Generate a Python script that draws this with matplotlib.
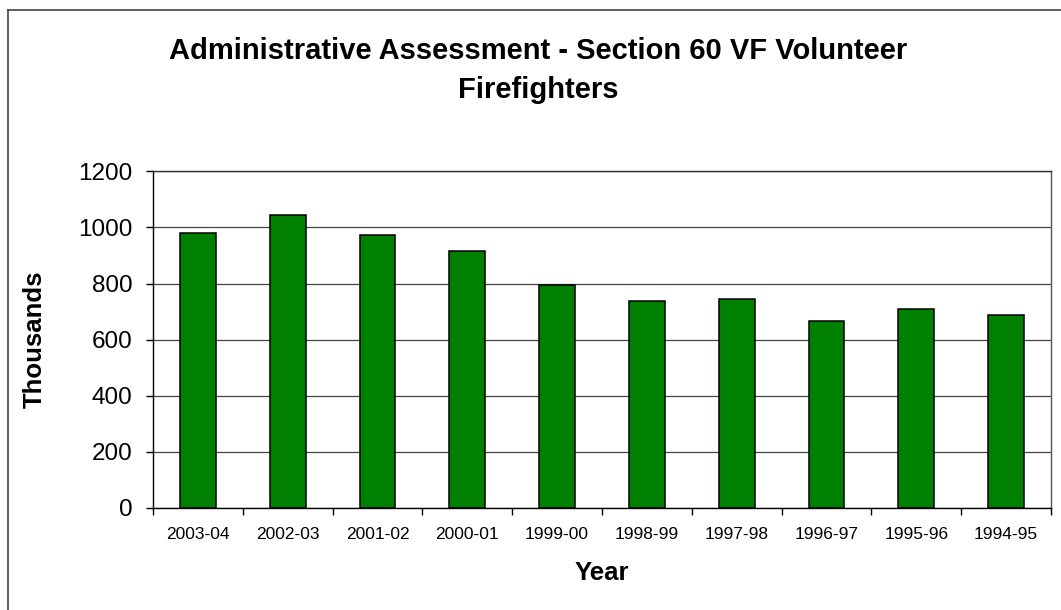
import matplotlib
matplotlib.use("Agg")
import matplotlib.pyplot as plt
from matplotlib.lines import Line2D
import numpy as np

plt.rcParams['font.family'] = ['Liberation Sans', 'DejaVu Sans']

years = ["2003-04", "2002-03", "2001-02", "2000-01", "1999-00",
         "1998-99", "1997-98", "1996-97", "1995-96", "1994-95"]
values = [980, 1045, 972, 917, 795, 738, 745, 668, 710, 689]
yticks = [0, 200, 400, 600, 800, 1000, 1200]

W, H = 1061, 610
fig = plt.figure(figsize=(W / 100, H / 100), dpi=100)
fig.patch.set_facecolor('white')

ax = fig.add_axes([153 / W, 1 - 508 / H, (1051 - 153) / W, (508 - 171.3) / H])

x = np.arange(len(years))
ax.bar(x, values, width=0.4, color='#008000', edgecolor='black', linewidth=1.1, zorder=3)

ax.set_xlim(-0.5, len(years) - 0.5)
ax.set_ylim(0, 1200)
ax.set_yticks(yticks)
ax.set_yticklabels([str(v) for v in yticks], fontsize=17.5)
ax.set_xticks(x)
ax.set_xticklabels(years, fontsize=12.5)
ax.set_xticks(np.arange(-0.5, len(years)), minor=True)
ax.tick_params(axis='x', which='major', length=0, pad=14)
ax.tick_params(axis='x', which='minor', length=5, width=1, color='black', direction='out')
ax.tick_params(axis='y', which='major', length=5, width=1, direction='out', pad=10)

ax.yaxis.grid(True, color='#444444', linewidth=0.9, zorder=0)
ax.set_axisbelow(True)
for s in ax.spines.values():
    s.set_color('black')
    s.set_linewidth(1.0)
ax.spines['top'].set_color('#333333')
ax.spines['right'].set_color('#555555')

ax.set_xlabel("Year", fontsize=18.5, fontweight='bold', labelpad=13)
ax.set_ylabel("Thousands", fontsize=18.5, fontweight='bold', labelpad=22)

fig.text(538 / W, 1 - 37 / H,
         "Administrative Assessment - Section 60 VF Volunteer\nFirefighters",
         ha='center', va='top', fontsize=21, fontweight='bold', linespacing=1.48)

# chart-area border (top and left visible)
x0 = 8 / W
y0 = 1 - 10 / H
fig.add_artist(Line2D([x0, 1.0], [y0, y0], transform=fig.transFigure, color='#333333', linewidth=1.1))
fig.add_artist(Line2D([x0, x0], [0.0, y0], transform=fig.transFigure, color='#333333', linewidth=1.1))

fig.savefig("out.png", dpi=100)
